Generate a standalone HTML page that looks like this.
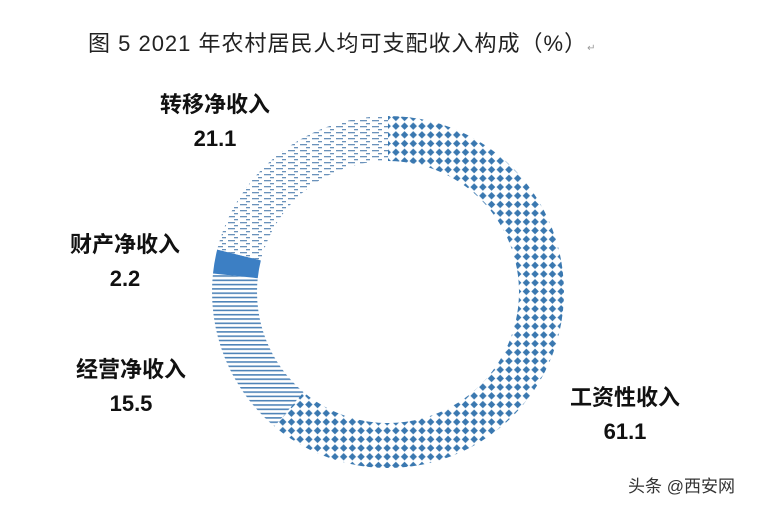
<!DOCTYPE html>
<html><head><meta charset="utf-8"><style>
body{margin:0;width:768px;height:505px;background:#fff;overflow:hidden;position:relative;font-family:"Liberation Sans","Noto Sans CJK SC",sans-serif}
.t{position:absolute;white-space:nowrap}
.lab{font-weight:bold;font-size:22px;color:#111;text-align:center;line-height:34px}
</style></head><body>
<div class="t" style="left:88px;top:26px;font-size:22px;color:#222;letter-spacing:1px">图 5 2021 年农村居民人均可支配收入构成（%）<span style="font-size:10px;color:#999">↵</span></div>
<svg width="768" height="505" style="position:absolute;left:0;top:0">
<defs>
<pattern id="pDiam" width="8.7" height="8.7" patternUnits="userSpaceOnUse"><rect width="8.7" height="8.7" fill="#fff"/><path d="M4.35 0.6L8.1 4.35L4.35 8.1L0.6 4.35Z" fill="#3a78b0"/></pattern>
<pattern id="pHor" width="8" height="4.3" patternUnits="userSpaceOnUse"><rect width="8" height="4.3" fill="#fff"/><rect y="0" width="8" height="1.6" fill="#4f84b8"/></pattern>
<pattern id="pDash" width="12" height="6" patternUnits="userSpaceOnUse"><rect width="12" height="6" fill="#fff"/><rect x="0" y="0" width="7" height="1.3" fill="#6a92bb"/><rect x="6" y="3" width="4" height="1.3" fill="#6a92bb"/></pattern>
</defs>
<g id="slices"></g>
</svg>
<div class="t lab" style="left:160px;top:88px">转移净收入<br>21.1</div>
<div class="t lab" style="left:70px;top:228px">财产净收入<br>2.2</div>
<div class="t lab" style="left:76px;top:353px">经营净收入<br>15.5</div>
<div class="t lab" style="left:570px;top:381px">工资性收入<br>61.1</div>
<div class="t" style="left:628px;top:472px;font-size:17px;color:#333">头条 @西安网</div>
<script>
const categories=["工资性收入","经营净收入","财产净收入","转移净收入"];
const values=[61.1,15.5,2.2,21.1];
const fills=["url(#pDiam)","url(#pHor)","#3c7fc4","url(#pDash)"];
const cx=388,cy=292,R=176,r=131;
const g=document.getElementById('slices');
const total=values.reduce((a,b)=>a+b,0);
function pt(rad,a){return [cx+rad*Math.sin(a),cy-rad*Math.cos(a)];}
let acc=0;
values.forEach((v,i)=>{
 const a0=acc/total*2*Math.PI;acc+=v;const a1=acc/total*2*Math.PI;
 const lg=(a1-a0)>Math.PI?1:0;
 const [x0,y0]=pt(R,a0),[x1,y1]=pt(R,a1),[x2,y2]=pt(r,a1),[x3,y3]=pt(r,a0);
 const p=document.createElementNS("http://www.w3.org/2000/svg","path");
 p.setAttribute('d',`M${x0} ${y0}A${R} ${R} 0 ${lg} 1 ${x1} ${y1}L${x2} ${y2}A${r} ${r} 0 ${lg} 0 ${x3} ${y3}Z`);
 p.setAttribute('fill',fills[i]);
 
 
 g.appendChild(p);
});
</script>
</body></html>
